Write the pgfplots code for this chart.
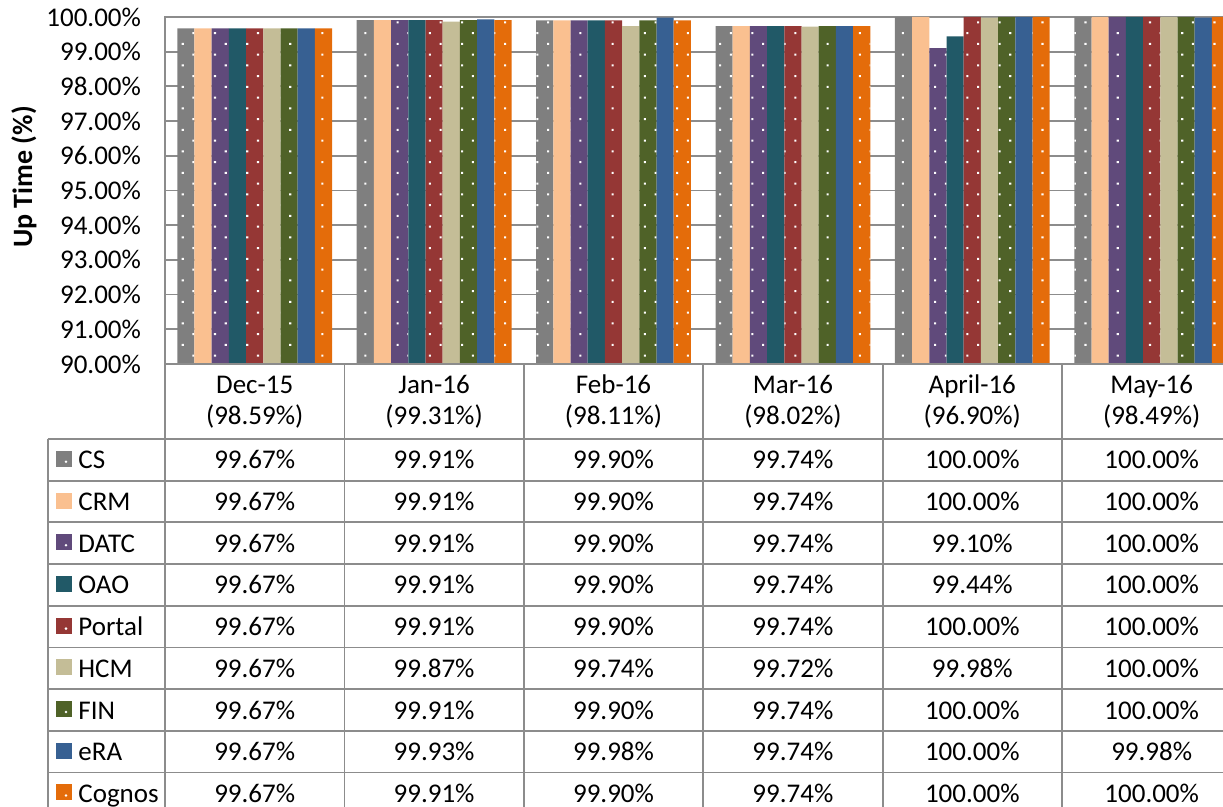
\documentclass[border=0pt]{standalone}
\usepackage{pgfplots}
\pgfplotsset{compat=1.18}
\usepackage{pgfplotstable}
\usetikzlibrary{patterns.meta}
\usepackage{fontspec}
\setmainfont{Carlito}

\definecolor{cCS}{HTML}{7F7F7F}
\definecolor{cCRM}{HTML}{FAC090}
\definecolor{cDATC}{HTML}{604A7B}
\definecolor{cOAO}{HTML}{215967}
\definecolor{cPortal}{HTML}{953735}
\definecolor{cHCM}{HTML}{C4BD97}
\definecolor{cFIN}{HTML}{4F6228}
\definecolor{ceRA}{HTML}{376092}
\definecolor{cCognos}{HTML}{E46C0A}
\definecolor{gridgray}{HTML}{8C8C8C}

\pgfplotstableread{
idx CS CRM DATC OAO Portal HCM FIN eRA Cognos
0 99.67 99.67 99.67 99.67 99.67 99.67 99.67 99.67 99.67
1 99.91 99.91 99.91 99.91 99.91 99.87 99.91 99.93 99.91
2 99.90 99.90 99.90 99.90 99.90 99.74 99.90 99.98 99.90
3 99.74 99.74 99.74 99.74 99.74 99.72 99.74 99.74 99.74
4 100.00 100.00 99.10 99.44 100.00 99.98 100.00 100.00 100.00
5 100.00 100.00 100.00 100.00 100.00 100.00 100.00 99.98 100.00
}\updata

\newcommand\tf{\fontsize{13.5}{16}\selectfont}
\tikzset{dotbar/.style={postaction={pattern color=white, pattern={Dots[distance=7.6pt,angle=45,radius=0.75pt]}}}}

\begin{document}
\begin{tikzpicture}[x=0.5pt,y=-0.5pt]
\begin{axis}[
  at={(82.5pt,-182pt)}, anchor=south west,
  x=89.7pt, y=17.35pt,
  xmin=-0.5, xmax=5.5, ymin=90, ymax=100,
  ybar=0pt, bar width=8.6pt,
  xtick=\empty,
  ytick={90,91,...,100},
  major tick length=0pt,
  ymajorgrids,
  grid style={gridgray, line width=0.9pt},
  axis line style={gridgray, line width=0.9pt},
  /pgf/number format/assume math mode=true,
  yticklabel={\pgfmathprintnumber[fixed,fixed zerofill,precision=2]{\tick}\%},
  yticklabel style={font=\tf, anchor=east, xshift=-8.5pt},
]
\addplot[fill=cCS, draw=none, dotbar] table[x=idx,y=CS]{\updata};
\addplot[fill=cCRM, draw=none] table[x=idx,y=CRM]{\updata};
\addplot[fill=cDATC, draw=none, dotbar] table[x=idx,y=DATC]{\updata};
\addplot[fill=cOAO, draw=none] table[x=idx,y=OAO]{\updata};
\addplot[fill=cPortal, draw=none, dotbar] table[x=idx,y=Portal]{\updata};
\addplot[fill=cHCM, draw=none] table[x=idx,y=HCM]{\updata};
\addplot[fill=cFIN, draw=none, dotbar] table[x=idx,y=FIN]{\updata};
\addplot[fill=ceRA, draw=none] table[x=idx,y=eRA]{\updata};
\addplot[fill=cCognos, draw=none, dotbar] table[x=idx,y=Cognos]{\updata};
\end{axis}

% y label
\node[rotate=90, font=\fontsize{14}{16}\selectfont\bfseries] at (24,177) {Up Time (\%)};

% table lines
\foreach \k in {0,...,6} {
  \draw[gridgray, line width=0.9pt] ({165+179.4*\k},364) -- ({165+179.4*\k},840);
}
\draw[gridgray, line width=0.9pt] (165,364) -- (1260,364);
\foreach \r in {0,...,9} {
  \draw[gridgray, line width=0.9pt] (47.7,{439+41.7*\r}) -- (1260,{439+41.7*\r});
}
\draw[gridgray, line width=0.9pt] (47.7,439) -- (47.7,840);

% header
\foreach \lab/\pct [count=\k from 0] in {Dec-15/98.59, Jan-16/99.31, Feb-16/98.11, Mar-16/98.02, April-16/96.90, May-16/98.49} {
  \node[anchor=base, font=\tf, inner sep=0pt] at ({165+179.4*(\k+0.5)}, 394) {\lab};
  \node[anchor=base, font=\tf, inner sep=0pt] at ({165+179.4*(\k+0.5)}, 425) {(\pct\%)};
}

% row labels, keys and values
\foreach \s/\dots [count=\r from 0] in {CS/1, CRM/0, DATC/1, OAO/0, Portal/1, HCM/0, FIN/1, eRA/0, Cognos/1} {
  \fill[c\s] (56,{439+41.7*(\r+0.5)-9}) rectangle (72,{439+41.7*(\r+0.5)+7});
  \ifnum\dots=1
    \fill[white] (66,{439+41.7*(\r+0.5)+2}) circle (0.7pt);
  \fi
  \node[anchor=base west, font=\tf, inner sep=0pt] at (78,{439+41.7*(\r+0.5)+9}) {\s};
  \foreach \k in {0,...,5} {
    \pgfplotstablegetelem{\k}{\s}\of\updata
    \node[anchor=base, font=\tf, inner sep=0pt] at ({165+179.4*(\k+0.5)},{439+41.7*(\r+0.5)+9}) {\pgfplotsretval\%};
  }
}

\pgfresetboundingbox
\path[use as bounding box] (0,0) rectangle (1223,807);
\end{tikzpicture}
\end{document}
